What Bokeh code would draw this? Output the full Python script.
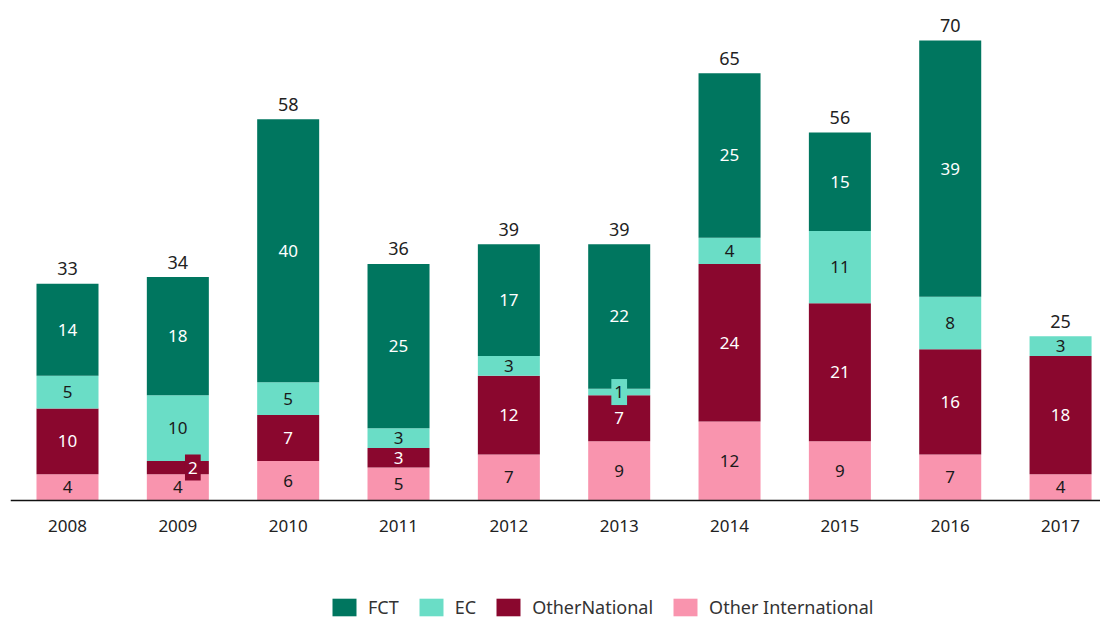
from bokeh.plotting import figure
from bokeh.models import ColumnDataSource, Legend, LegendItem, Range1d, FixedTicker
from bokeh.core.properties import value
from bokeh.embed import file_html
from bokeh.resources import INLINE

years = ["2008", "2009", "2010", "2011", "2012", "2013", "2014", "2015", "2016", "2017"]
fct = [14, 18, 40, 25, 17, 22, 25, 15, 39, 0]
ec = [5, 10, 5, 3, 3, 1, 4, 11, 8, 3]
other_national = [10, 2, 7, 3, 12, 7, 24, 21, 16, 18]
other_international = [4, 4, 6, 5, 7, 9, 12, 9, 7, 4]

series_names = ["Other International", "OtherNational", "EC", "FCT"]
series_vals = [other_international, other_national, ec, fct]
colors = ["#F994AE", "#8A072E", "#6ADDC6", "#00765F"]
text_colors = ["#1a1a1a", "#ffffff", "#1a1a1a", "#ffffff"]
FONT = "Noto Sans"

xs = list(range(len(years)))
data = {"x": xs}
for n, v in zip(series_names, series_vals):
    data[n] = v
src = ColumnDataSource(data)

p = figure(width=1100, height=622, output_backend="svg",
           toolbar_location=None, min_border_left=10, min_border_right=0,
           min_border_top=8, min_border_bottom=0,
           x_range=Range1d(-0.5166, 9.362), y_range=Range1d(-18.57, 74.87))
p.outline_line_color = None
p.xgrid.visible = False
p.ygrid.visible = False
p.yaxis.visible = False

renderers = p.vbar_stack(series_names, x="x", width=0.562, source=src,
                         color=colors, line_color=None)

# segment labels
lx, ly, lt, lc = [], [], [], []
bx, by, bt, bc, bbg, bxo = [], [], [], [], [], []
for i in xs:
    base = 0
    for k, v in enumerate(series_vals):
        val = v[i]
        if val > 0:
            mid = base + val / 2
            if val <= 2:
                bx.append(i); by.append(mid); bt.append(str(val))
                bc.append(text_colors[k]); bbg.append(colors[k])
                bxo.append(15 if val == 2 else 0)
            else:
                lx.append(i); ly.append(mid); lt.append(str(val)); lc.append(text_colors[k])
        base += val

p.text(x="x", y="y", text="t", text_color="c",
       source=ColumnDataSource(dict(x=lx, y=ly, t=lt, c=lc)),
       text_align="center", text_baseline="middle",
       text_font=value(FONT), text_font_size="17px")
p.text(x="x", y="y", text="t", text_color="c", background_fill_color="bg",
       x_offset="xo",
       source=ColumnDataSource(dict(x=bx, y=by, t=bt, c=bc, bg=bbg, xo=bxo)),
       text_align="center", text_baseline="middle",
       padding=dict(left=3, right=3, top=7, bottom=7),
       text_font=value(FONT), text_font_size="17px")

totals = [sum(v[i] for v in series_vals) for i in xs]
p.text(x=xs, y=totals, text=[str(t) for t in totals],
       text_align="center", text_baseline="alphabetic", y_offset=-15,
       text_color="#222222", text_font=value(FONT), text_font_size="18px")

p.xaxis.fixed_location = 0
p.xaxis.ticker = FixedTicker(ticks=xs)
p.xaxis.major_label_overrides = {i: y for i, y in zip(xs, years)}
p.xaxis.major_tick_line_color = None
p.xaxis.minor_tick_line_color = None
p.xaxis.axis_line_color = "#111111"
p.xaxis.axis_line_width = 1.5
p.xaxis.major_label_standoff = 14
p.xaxis.major_label_text_font = FONT
p.xaxis.major_label_text_font_size = "17px"
p.xaxis.major_label_text_color = "#222222"

items = [LegendItem(label=series_names[k], renderers=[renderers[k]]) for k in [3, 2, 1, 0]]
legend = Legend(items=items, orientation="horizontal", location=(319, 3),
                glyph_width=30, glyph_height=22, label_standoff=9, spacing=17,
                label_text_font=FONT, label_text_font_size="18px",
                label_text_color="#333333", border_line_color=None,
                background_fill_alpha=0, margin=0, padding=0)
p.add_layout(legend, "center")

html = file_html(p, INLINE)
open("out.html", "w").write(html)
